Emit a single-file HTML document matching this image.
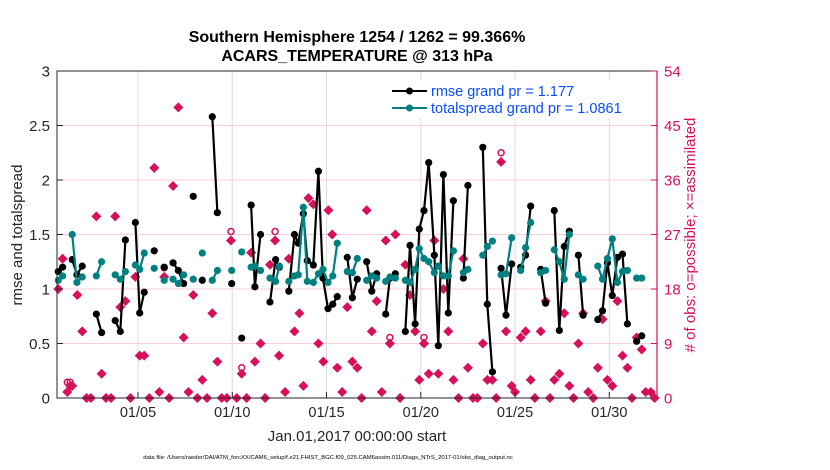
<!DOCTYPE html>
<html><head><meta charset="utf-8"><style>
html,body{margin:0;padding:0;background:#fff;}
svg{display:block;font-family:"Liberation Sans",Arial,sans-serif;}
</style></head><body>
<svg id="chart" width="830" height="470" viewBox="0 0 830 470">
<rect width="830" height="470" fill="#fff"/>
<text x="357" y="42" text-anchor="middle" font-size="16" font-weight="bold">Southern Hemisphere 1254 / 1262 = 99.366%</text>
<text x="357" y="61" text-anchor="middle" font-size="16" font-weight="bold">ACARS_TEMPERATURE @ 313 hPa</text>
<g id="grid"></g>
<g id="marks"></g>
<rect x="57" y="71" width="600" height="327" fill="none" stroke="#262626" stroke-width="1"/>
<line x1="657" y1="71" x2="657" y2="398" stroke="#d6105a" stroke-width="1.2"/>
<g id="axes"></g>
<text transform="translate(22,235) rotate(-90)" text-anchor="middle" font-size="15" fill="#262626">rmse and totalspread</text>
<text transform="translate(695,235) rotate(-90)" text-anchor="middle" font-size="15" fill="#d6105a"># of obs: o=possible; ×=assimilated</text>
<text x="357" y="441" text-anchor="middle" font-size="15" fill="#262626">Jan.01,2017 00:00:00 start</text>
<text x="328" y="459" text-anchor="middle" font-size="5.9" fill="#000">data file: /Users/raeder/DAI/ATM_forcXX/CAM6_setup/f.e21.FHIST_BGC.f09_025.CAM6assim.011/Diags_NTrS_2017-01/obs_diag_output.nc</text>
<g>
<rect x="386" y="80" width="266" height="38" fill="#fff"/>
<g>
<line x1="392" y1="91" x2="427" y2="91" stroke="#000" stroke-width="2"/>
<circle cx="409.5" cy="91" r="3.5" fill="#000"/>
<text x="431" y="96" font-size="14.5" fill="#0a4cff">rmse grand pr = 1.177</text></g>
<g>
<line x1="392" y1="108" x2="427" y2="108" stroke="#008080" stroke-width="2"/>
<circle cx="409.5" cy="108" r="3.5" fill="#008080"/>
<text x="431" y="113" font-size="14.5" fill="#0a4cff">totalspread grand pr = 1.0861</text></g>
</g>
</svg>
<script>
const days = [0.77,1.0,null,1.51,1.76,2.04,null,2.79,3.07,null,3.79,4.06,4.33,null,4.86,5.09,5.33,null,5.86,null,6.39,null,6.86,7.14,7.42,null,7.93,null,8.41,null,8.94,9.21,null,9.97,null,10.5,null,11.0,11.2,11.5,null,12.0,12.3,12.5,null,13.0,13.3,13.5,13.77,13.98,14.3,14.57,14.81,15.08,15.33,15.57,null,16.1,16.37,16.63,null,17.13,17.4,17.66,null,18.14,18.36,18.65,null,19.18,19.43,19.7,19.92,20.17,20.42,20.72,20.93,21.2,21.46,21.73,null,22.26,22.5,null,23.29,23.53,23.8,null,24.26,24.52,24.82,null,25.3,25.56,25.83,null,26.36,26.62,null,27.08,27.35,27.61,27.88,null,28.36,28.61,null,29.39,29.64,29.9,30.16,30.43,30.7,30.96,null,31.45,31.72];
const rmse = [1.16,1.20,null,1.27,1.13,1.21,null,0.77,0.60,null,0.71,0.61,1.45,null,1.61,0.78,0.97,null,1.35,null,1.20,null,1.24,1.17,1.05,null,1.85,null,1.08,null,2.58,1.70,null,1.05,null,0.55,null,1.77,1.02,1.50,null,0.88,1.27,1.20,null,0.98,1.50,1.42,1.69,1.26,1.22,2.08,1.10,0.82,0.86,0.93,null,1.29,0.92,1.09,null,1.25,0.98,1.14,null,0.77,1.10,1.14,null,0.61,1.40,0.68,1.55,1.72,2.16,1.31,0.48,2.05,0.78,1.81,null,1.10,1.95,null,2.30,0.86,0.24,null,1.19,0.76,1.23,null,1.20,1.31,1.76,null,1.18,0.87,null,1.72,0.62,1.39,1.53,null,1.31,0.76,null,0.72,0.80,1.24,0.94,1.29,1.32,0.68,null,0.52,0.57];
const spread = [1.08,1.12,null,1.50,1.06,1.11,null,1.12,1.25,null,1.13,1.09,1.16,null,1.22,1.18,1.33,null,1.19,null,1.08,null,1.09,1.05,1.13,null,1.09,null,1.33,null,1.08,1.17,null,1.17,null,1.34,null,1.20,1.21,1.17,null,1.10,1.07,1.21,null,1.07,1.12,1.13,1.75,1.07,1.06,1.14,1.18,1.06,1.12,1.42,null,1.16,1.15,1.28,null,1.08,1.12,1.10,null,1.07,1.11,1.10,null,1.08,1.06,1.18,1.37,1.28,1.25,1.15,1.21,1.12,1.12,1.35,null,1.15,1.18,null,1.31,1.39,1.44,null,1.13,1.14,1.47,null,1.17,1.38,1.61,null,1.15,1.17,null,1.36,1.25,1.09,1.50,null,1.13,1.09,null,1.21,1.09,1.28,1.46,1.06,1.16,1.17,null,1.10,1.10];
const obsDays = [0.77,1.0,1.25,1.4,1.51,1.78,2.04,2.27,2.5,2.79,3.07,3.3,3.57,3.79,4.06,4.33,4.6,4.86,5.09,5.33,5.6,5.86,6.13,6.39,6.65,6.86,7.14,7.42,7.68,7.93,8.15,8.41,8.66,8.94,9.21,9.44,9.71,9.93,10.24,10.5,10.76,11.0,11.2,11.5,11.74,12.0,12.27,12.48,12.8,13.0,13.3,13.56,13.77,14.04,14.3,14.57,14.83,15.1,15.3,15.57,15.83,16.1,16.37,16.63,16.86,17.13,17.4,17.66,17.93,18.14,18.36,18.65,18.9,19.18,19.43,19.7,19.92,20.17,20.42,20.72,20.93,21.2,21.46,21.73,22.0,22.26,22.5,22.77,23.0,23.29,23.53,23.8,24.0,24.26,24.52,24.82,25.0,25.3,25.56,25.83,26.05,26.36,26.62,26.85,27.08,27.35,27.61,27.88,28.1,28.36,28.61,28.88,29.15,29.39,29.64,29.9,30.16,30.43,30.7,30.96,31.2,31.45,31.72,31.93,32.2,32.4];
const assimilated = [18,23,1,2,2,17,11,0,0,30,4,0,0,30,15,16,0,20,7,7,0,38,1,20,0,35,48,10,1,17,0,3,0,14,6,0,0,26,0,4,0,24,6,9,0,22,26,7,1,23,11,14,2,33,32,9,6,31,27,5,1,15,6,5,0,31,11,16,1,26,9,27,0,22,17,11,3,9,4,26,4,18,11,3,0,23,5,0,0,9,3,3,0,39,11,2,1,10,11,3,0,11,16,0,3,4,14,2,0,9,14,1,0,5,13,3,2,16,7,5,0,10,8,1,1,0];
const possibleDays = [1.25,1.4,6.39,9.93,10.5,12.27,18.36,20.17,24.26];
const possible = [2.6,2.6,21.5,27.5,5,27.5,10,10,40.5];
const xTickDays = [5,10,15,20,25,30];
const xTickLabels = ["01/05","01/10","01/15","01/20","01/25","01/30"];
const yTicks = [0,0.5,1,1.5,2,2.5,3];
const yTickLabels = ["0","0.5","1","1.5","2","2.5","3"];
const y2Ticks = [0,9,18,27,36,45,54];

const NS="http://www.w3.org/2000/svg";
const X0=57,X1=657,Y0=398,Y1=71,D0=0.703,D1=32.53;
function xs(d){return X0+(d-D0)/(D1-D0)*(X1-X0);}
function ys(v){return Y0-v/3*(Y0-Y1);}
function y2s(v){return Y0-v/54*(Y0-Y1);}
function mk(tag,attrs,parent){const e=document.createElementNS(NS,tag);for(const k in attrs)e.setAttribute(k,attrs[k]);parent.appendChild(e);return e;}
const grid=document.getElementById('grid'),marks=document.getElementById('marks'),axes=document.getElementById('axes');

xTickDays.forEach((d,i)=>{
  const g=mk('line',{x1:xs(d),x2:xs(d),y1:Y1,y2:Y0,stroke:'#dcdcdc','stroke-width':1},grid);
  
  
  const t=mk('line',{x1:xs(d),x2:xs(d),y1:Y0,y2:Y0-6,stroke:'#262626'},axes);
  
  
  const l=mk('text',{x:xs(d),y:Y0+19,'text-anchor':'middle','font-size':14.5,fill:'#262626'},axes);
  l.textContent=xTickLabels[i];
  
  
});
y2Ticks.forEach(v=>{
  if(v>0&&v<54){const g=mk('line',{x1:X0,x2:X1,y1:y2s(v),y2:y2s(v),stroke:'#f5cfdc','stroke-width':1},grid);
  
  }
  const t=mk('line',{x1:X1,x2:X1-6,y1:y2s(v),y2:y2s(v),stroke:'#d6105a'},axes);
  
  
  const l=mk('text',{x:X1+7,y:y2s(v)+5.5,'font-size':15,fill:'#d6105a'},axes);
  l.textContent=String(v);
  
  
});
yTicks.forEach((v,i)=>{
  const t=mk('line',{x1:X0,x2:X0+6,y1:ys(v),y2:ys(v),stroke:'#262626'},axes);
  
  
  const l=mk('text',{x:X0-7,y:ys(v)+5.5,'text-anchor':'end','font-size':15,fill:'#262626'},axes);
  l.textContent=yTickLabels[i];
  
  
});

possibleDays.forEach((d,i)=>{
  const c=mk('circle',{cx:xs(d),cy:y2s(possible[i]),r:3,fill:'none',stroke:'#d6105a','stroke-width':1.5},marks);
  
  
});
obsDays.forEach((d,i)=>{
  const cx=xs(d),cy=y2s(assimilated[i]),r=5;
  const p=mk('path',{d:`M${cx} ${cy-r}L${cx+r} ${cy}L${cx} ${cy+r}L${cx-r} ${cy}Z`,fill:'#d6105a'},marks);
  
  
});

function series(vals,color,name){
  let d='',pen=false;
  days.forEach((x,i)=>{
    if(x===null||vals[i]===null){pen=false;return;}
    d+=(pen?'L':'M')+xs(x).toFixed(1)+' '+ys(vals[i]).toFixed(1);pen=true;
  });
  const p=mk('path',{d:d,fill:'none',stroke:color,'stroke-width':2.2,'stroke-linejoin':'round'},marks);
  
  
  days.forEach((x,i)=>{
    if(x===null||vals[i]===null)return;
    const c=mk('circle',{cx:xs(x),cy:ys(vals[i]),r:3.6,fill:color},marks);
    
    
  });
}
series(rmse,'#000','rmse');
series(spread,'#008080','totalspread');
</script>
</body></html>
